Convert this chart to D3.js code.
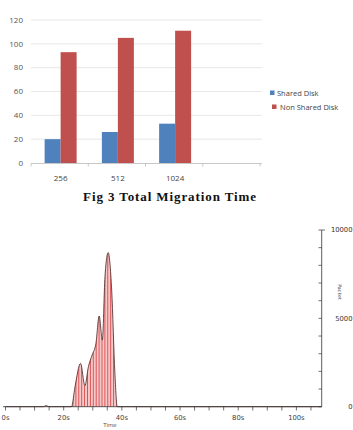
<!DOCTYPE html>
<html>
<head>
<meta charset="utf-8">
<script src="https://cdn.jsdelivr.net/npm/d3@7"></script>
<style>
body { margin: 0; background: #fff; }
svg { display: block; }
</style>
</head>
<body>
<div id="chart"></div>
<script>
var w = 353; var h = 430;

// top chart: total migration time
var sizes = ['256', '512', '1024'];
var seriesNames = ['Shared Disk', 'Non Shared Disk'];
var sharedDisk = [20, 26, 33];
var nonSharedDisk = [93, 105, 111];
var yTicks = [0, 20, 40, 60, 80, 100, 120];
var colors = ['#4f81bd', '#c0504d'];

// bottom chart: packets over time
var timeSec = [0, 13, 14, 15, 22.7, 23.9, 25.8, 27.3, 28.5, 29.8, 31.1, 32.2, 33.3, 34.2, 35.3, 36.5, 37.6, 38.4, 108.7];
var packets = [0, 0, 60, 0, 0, 1130, 2450, 1190, 2260, 2930, 3590, 5130, 3770, 7360, 8720, 6600, 1900, 0, 0];
var timeTicks = [0, 20, 40, 60, 80, 100];
var packetTicks = [0, 5000, 10000];

var svg = d3.select('#chart')
			.append('svg')
			.attr('width', w)
			.attr('height', h);

var defs = svg.append('defs');
var pat = defs.append('pattern')
			.attr('id', 'stripes')
			.attr('patternUnits', 'userSpaceOnUse')
			.attr('width', 2.9)
			.attr('height', 10);
pat.append('rect').attr('width', 2.9).attr('height', 10).attr('fill', '#f6c9c9');
pat.append('rect').attr('x', 0).attr('width', 0.9).attr('height', 10).attr('fill', '#d9474a');

// ---- bar chart ----
var slots = d3.range(sizes.length + 1);
var x0 = d3.scaleBand().domain(slots).range([31, 260]);
var x1 = d3.scaleBand().domain(d3.range(seriesNames.length)).range([0, 32]);
var y = d3.scaleLinear().domain([0, 120]).range([163, 20]);

var barG = svg.append('g');

barG.selectAll('.grid')
	.data(yTicks.slice(1))
	.enter()
	.append('line')
	.attr('x1', 31).attr('x2', 262)
	.attr('y1', function(d) { return y(d); })
	.attr('y2', function(d) { return y(d); })
	.attr('stroke', '#e2e2e2')
	.attr('stroke-width', 0.8);

barG.selectAll('.ylab')
	.data(yTicks)
	.enter()
	.append('text')
	.attr('x', 23)
	.attr('y', function(d) { return y(d) + 2.8; })
	.attr('text-anchor', 'end')
	.attr('font-family', 'Open Sans, sans-serif')
	.attr('font-size', 8)
	.attr('fill', '#555')
	.text(function(d) { return d; });

var groups = barG.selectAll('.grp')
	.data(sizes)
	.enter()
	.append('g')
	.attr('transform', function(d, i) { return 'translate(' + (x0(i) + x0.bandwidth() / 2 - 15) + ',0)'; });

groups.selectAll('rect')
	.data(function(d, i) { return [sharedDisk[i], nonSharedDisk[i]]; })
	.enter()
	.append('rect')
	.attr('x', function(d, j) { return x1(j); })
	.attr('width', x1.bandwidth())
	.attr('y', function(d) { return y(d); })
	.attr('height', function(d) { return y(0) - y(d); })
	.attr('fill', function(d, j) { return colors[j]; });

barG.append('line')
	.attr('x1', 31).attr('x2', 262)
	.attr('y1', 163.5).attr('y2', 163.5)
	.attr('stroke', '#c8c8c8');

barG.selectAll('.xtick')
	.data(slots.concat([slots.length]))
	.enter()
	.append('line')
	.attr('x1', function(d) { return 31 + d * x0.bandwidth(); })
	.attr('x2', function(d) { return 31 + d * x0.bandwidth(); })
	.attr('y1', 163.5).attr('y2', 166.5)
	.attr('stroke', '#c8c8c8');

barG.selectAll('.xlab')
	.data(sizes)
	.enter()
	.append('text')
	.attr('x', function(d, i) { return x0(i) + x0.bandwidth() / 2 + 1; })
	.attr('y', 181)
	.attr('text-anchor', 'middle')
	.attr('font-family', 'Open Sans, sans-serif')
	.attr('font-size', 8)
	.attr('fill', '#444')
	.text(function(d) { return d; });

var legend = barG.selectAll('.leg')
	.data(seriesNames)
	.enter()
	.append('g')
	.attr('transform', function(d, i) { return 'translate(270,' + (93 + i * 14) + ')'; });
legend.append('rect')
	.attr('x', function(d, i) { return i * 2; }).attr('y', -2.5)
	.attr('width', 4.5).attr('height', 4.5)
	.attr('fill', function(d, i) { return colors[i]; });
legend.append('text')
	.attr('x', function(d, i) { return 7 + i * 3; })
	.attr('y', 2.7)
	.attr('font-family', 'Open Sans, sans-serif')
	.attr('font-size', 7.5)
	.attr('fill', '#444')
	.text(function(d) { return d; });

svg.append('text')
	.attr('x', 170)
	.attr('y', 201)
	.attr('text-anchor', 'middle')
	.attr('font-family', 'Liberation Serif, serif')
	.attr('font-weight', 'bold')
	.attr('font-size', 13)
	.attr('letter-spacing', 0.9)
	.attr('fill', '#111')
	.text('Fig 3 Total Migration Time');

// ---- packet area chart ----
var xt = d3.scaleLinear().domain([0, 108.7]).range([5.5, 321.7]);
var yp = d3.scaleLinear().domain([0, 10000]).range([406.7, 230]);
var pts = timeSec.map(function(t, i) { return [t, packets[i]]; });

var area = d3.area()
	.x(function(d) { return xt(d[0]); })
	.y0(yp(0))
	.y1(function(d) { return yp(d[1]); })
	.curve(d3.curveMonotoneX);
var line = d3.line()
	.x(function(d) { return xt(d[0]); })
	.y(function(d) { return yp(d[1]); })
	.curve(d3.curveMonotoneX);

var bot = svg.append('g');
bot.append('path').attr('d', area(pts)).attr('fill', 'url(#stripes)');
bot.append('path').attr('d', line(pts))
	.attr('fill', 'none')
	.attr('stroke', '#5a3434')
	.attr('stroke-width', 0.9);

bot.append('line')
	.attr('x1', 3).attr('x2', 321.7)
	.attr('y1', 406.7).attr('y2', 406.7)
	.attr('stroke', '#333').attr('stroke-width', 0.8);

bot.selectAll('.tt')
	.data(d3.range(0, 106, 5))
	.enter()
	.append('line')
	.attr('x1', function(d) { return xt(d); })
	.attr('x2', function(d) { return xt(d); })
	.attr('y1', 406.7).attr('y2', 410.5)
	.attr('stroke', '#333').attr('stroke-width', 0.7);

bot.selectAll('.tl')
	.data(timeTicks)
	.enter()
	.append('text')
	.attr('x', function(d) { return xt(d); })
	.attr('y', 419.5)
	.attr('text-anchor', 'middle')
	.attr('font-family', 'DejaVu Sans, sans-serif')
	.attr('font-size', 6.8)
	.attr('fill', '#444')
	.text(function(d) { return d + 's'; });

bot.append('text')
	.attr('x', 110).attr('y', 426.5)
	.attr('text-anchor', 'middle')
	.attr('font-family', 'DejaVu Sans, sans-serif')
	.attr('font-size', 5.5)
	.attr('fill', '#555')
	.text('Time');

bot.append('line')
	.attr('x1', 321.7).attr('x2', 321.7)
	.attr('y1', 230).attr('y2', 406.7)
	.attr('stroke', '#333').attr('stroke-width', 0.8);

bot.selectAll('.pt')
	.data(d3.range(0, 10001, 1000))
	.enter()
	.append('line')
	.attr('x1', 318.5).attr('x2', 321.7)
	.attr('y1', function(d) { return yp(d); })
	.attr('y2', function(d) { return yp(d); })
	.attr('stroke', '#333').attr('stroke-width', 0.7);

bot.append('line')
	.attr('x1', 321.7).attr('x2', 325)
	.attr('y1', yp(10000)).attr('y2', yp(10000))
	.attr('stroke', '#333').attr('stroke-width', 0.7);

bot.selectAll('.pl')
	.data(packetTicks)
	.enter()
	.append('text')
	.attr('x', 352.5)
	.attr('y', function(d) { return yp(d) + 2.4; })
	.attr('text-anchor', 'end')
	.attr('font-family', 'DejaVu Sans, sans-serif')
	.attr('font-size', 6.8)
	.attr('fill', '#333')
	.text(function(d) { return d; });

bot.append('text')
	.attr('transform', 'translate(338,292) rotate(90)')
	.attr('text-anchor', 'middle')
	.attr('font-family', 'DejaVu Sans, sans-serif')
	.attr('font-size', 4.8)
	.attr('fill', '#555')
	.text('Packet');
</script>
</body>
</html>
